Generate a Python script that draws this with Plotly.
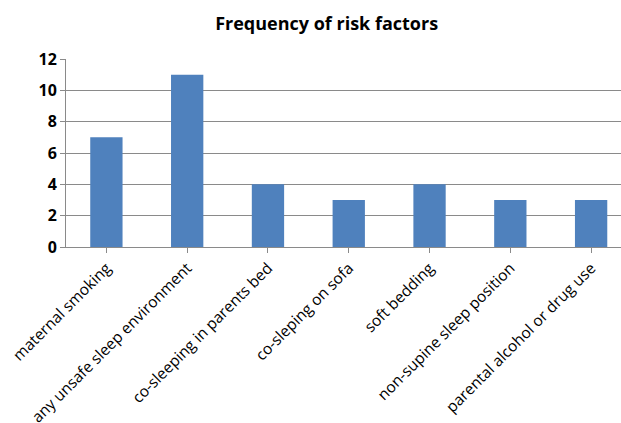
import plotly.graph_objects as go

categories = [
    "maternal smoking",
    "any unsafe sleep environment",
    "co-sleeping in parents bed",
    "co-sleping on sofa",
    "soft bedding",
    "non-supine sleep position",
    "parental alcohol or drug use",
]
frequency = [7, 11, 4, 3, 4, 3, 3]
y_ticks = [0, 2, 4, 6, 8, 10, 12]

FONT = "Open Sans, Liberation Sans, sans-serif"

fig = go.Figure(
    go.Bar(
        x=list(range(len(categories))),
        y=frequency,
        marker=dict(color="#4F81BD", line=dict(width=0)),
    )
)

fig.update_layout(
    width=621,
    height=423,
    margin=dict(l=66, r=0, t=59, b=176, autoexpand=False),
    paper_bgcolor="white",
    plot_bgcolor="white",
    bargap=0.6,
    showlegend=False,
    title=dict(
        text="<b>Frequency of risk factors</b>",
        x=0.526,
        xanchor="center",
        y=0.943,
        yanchor="middle",
        font=dict(family=FONT, size=18, color="black"),
    ),
)

fig.update_xaxes(
    tickmode="array",
    tickvals=list(range(len(categories))),
    ticktext=categories,
    tickangle=-45,
    range=[-0.5, 6.37],
    automargin=False,
    showline=True,
    linecolor="#8a8a8a",
    linewidth=1,
    ticks="outside",
    ticklen=5,
    tickcolor="#8a8a8a",
    tickson="boundaries",
    showgrid=False,
    zeroline=False,
    tickfont=dict(family=FONT, size=15.5, color="black"),
)

fig.update_yaxes(
    range=[0, 12],
    tickmode="array",
    tickvals=y_ticks,
    automargin=False,
    showline=True,
    linecolor="#8a8a8a",
    linewidth=1,
    ticks="outside",
    ticklen=5,
    tickcolor="#8a8a8a",
    showgrid=True,
    gridcolor="#8a8a8a",
    gridwidth=1,
    zeroline=False,
    tickfont=dict(family=FONT, size=16, color="black", weight="bold"),
)

fig.write_html("out.html")
